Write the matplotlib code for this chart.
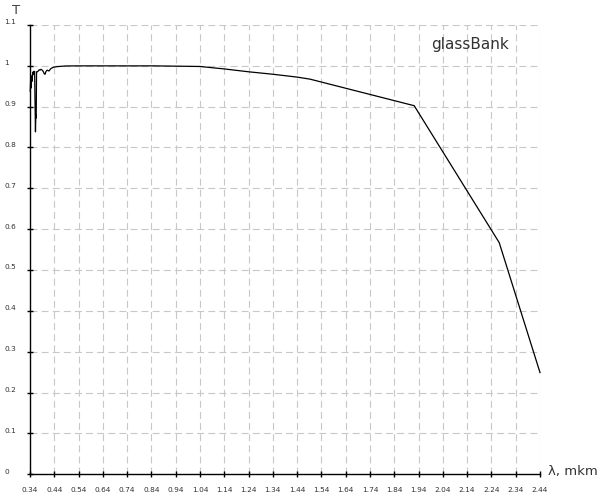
import numpy as np
import matplotlib
matplotlib.use('Agg')
import matplotlib.pyplot as plt
import matplotlib.transforms as mtransforms
from matplotlib.ticker import FixedLocator, FuncFormatter

plt.rcParams['lines.scale_dashes'] = False

# transmission curve of glassBank
wavelength = [0.341, 0.3425, 0.344, 0.345, 0.347, 0.349, 0.351, 0.353, 0.355, 0.357,
              0.359, 0.361, 0.3625, 0.364, 0.3655, 0.367, 0.370, 0.374, 0.378, 0.381,
              0.385, 0.388, 0.392, 0.395, 0.399, 0.402, 0.406, 0.411, 0.418, 0.426,
              0.436, 0.45, 0.47, 0.49, 0.55, 0.70, 0.85, 1.04, 1.14, 1.24,
              1.34, 1.44, 1.493, 1.922, 2.272, 2.44]
transmission = [0.937, 0.965, 0.945, 0.95, 0.975, 0.962, 0.984, 0.978, 0.986, 0.982,
                0.986, 0.90, 0.838, 0.88, 0.872, 0.985, 0.985, 0.987, 0.990, 0.989,
                0.991, 0.990, 0.988, 0.985, 0.980, 0.979, 0.986, 0.989, 0.987, 0.993,
                0.996, 0.9976, 0.9985, 0.9993, 0.9995, 0.9995, 0.9995, 0.998, 0.992, 0.985,
                0.979, 0.972, 0.967, 0.902, 0.567, 0.249]

x_ticks = [0.34, 0.44, 0.54, 0.64, 0.74, 0.84, 0.94, 1.04, 1.14, 1.24, 1.34,
           1.44, 1.54, 1.64, 1.74, 1.84, 1.94, 2.04, 2.14, 2.24, 2.34, 2.44]
y_ticks = [0, 0.1, 0.2, 0.3, 0.4, 0.5, 0.6, 0.7, 0.8, 0.9, 1.0, 1.1]
series_name = 'glassBank'

fig = plt.figure(figsize=(6, 5), dpi=100)
ax = fig.add_axes([0.05, 0.0514, 0.85, 0.899])
ax.set_xlim(0.34, 2.44)
ax.set_ylim(0, 1.1)

# dashed grid
for xv in x_ticks[1:]:
    ax.axvline(xv, color='#c8c8c8', lw=0.8, ls=(0, (5, 3)), zorder=0)
for yv in y_ticks[1:]:
    ax.axhline(yv, color='#c8c8c8', lw=0.8, ls=(0, (5, 3)), zorder=0)

ax.plot(wavelength, transmission, color='black', lw=0.9, clip_on=False, zorder=3)

for s in ['top', 'right']:
    ax.spines[s].set_visible(False)
for s in ['left', 'bottom']:
    ax.spines[s].set_linewidth(1.0)
    ax.spines[s].set_color('black')

ax.xaxis.set_major_locator(FixedLocator(x_ticks))
ax.yaxis.set_major_locator(FixedLocator(y_ticks))
ax.xaxis.set_major_formatter(FuncFormatter(lambda v, p: '%.2f' % v))
ax.yaxis.set_major_formatter(FuncFormatter(lambda v, p: '%g' % round(v, 2)))
ax.tick_params(axis='both', direction='inout', length=5, width=1.0,
               labelsize=5.3, labelcolor='#333333')
ax.tick_params(axis='x', pad=6.5)
ax.tick_params(axis='y', pad=15.8)
lift = mtransforms.ScaledTranslation(0, 2.5 / 100, fig.dpi_scale_trans)
for lab in ax.get_yticklabels():
    lab.set_horizontalalignment('left')
    lab.set_verticalalignment('center')
    lab.set_transform(lab.get_transform() + lift)

fig.text(16.5 / 600, 1 - 10 / 500, 'T', fontsize=9.5, color='#444444',
         ha='center', va='center')
fig.text(548 / 600, 1 - 471 / 500, 'λ, mkm', fontsize=9.5, color='#333333',
         ha='left', va='center')
fig.text(470 / 600, 1 - 45 / 500, series_name, fontsize=11, color='#333333',
         ha='center', va='center')

fig.savefig('out.png', dpi=100)
